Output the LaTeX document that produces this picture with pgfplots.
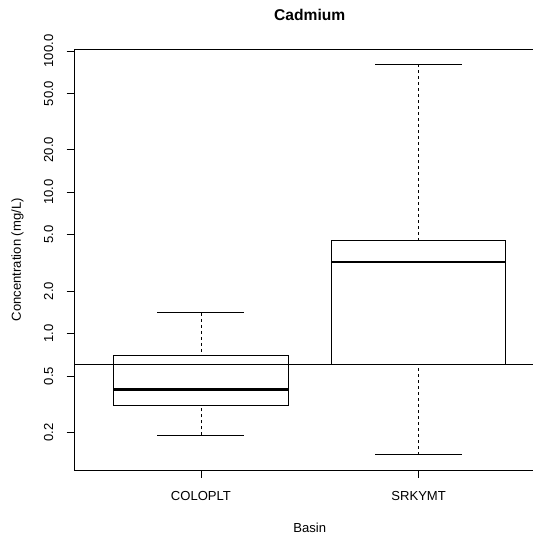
\documentclass[border=0pt]{standalone}
\usepackage{fontspec}
\setmainfont{Liberation Sans}
\usepackage{pgfplots}
\pgfplotsset{compat=1.18}
\usepgfplotslibrary{statistics}
\begin{document}
\begin{tikzpicture}
\begin{axis}[
  name=ax, at={(0,0)}, anchor=south west,
  scale only axis, width=343.7pt, height=315.5pt,
  xmin=0.42, xmax=2.525, ymin=0.108, ymax=102.8,
  ymode=log,
  axis line style={draw=none},
  tick align=outside, xtick pos=bottom, ytick pos=left,
  major tick length=6pt,
  tick style={black, line width=0.6pt},
  yminorticks=false,
  xtick={1,2}, xticklabels={COLOPLT,SRKYMT},
  ytick={0.2,0.5,1,2,5,10,20,50,100},
  yticklabels={0.2,0.5,1.0,2.0,5.0,10.0,20.0,50.0,100.0},
  ticklabel style={font=\fontsize{9.8}{11}\selectfont},
  xticklabel style={anchor=center, yshift=-13.5pt},
  yticklabel style={xshift=-13.5pt, rotate=90, anchor=center},
  title={Cadmium},
  title style={font=\fontsize{11.7}{13}\selectfont\bfseries, at={(axis description cs:0.513,1.0625)}, anchor=center},
  xlabel={Basin},
  xlabel style={font=\fontsize{9.8}{11}\selectfont, at={(axis description cs:0.513,-0.1379)}, anchor=center},
  ylabel={Concentration (mg/L)},
  ylabel style={font=\fontsize{9.8}{11}\selectfont, at={(axis description cs:-0.1248,0.5)}, anchor=center},
  boxplot/draw direction=y,
  boxplot/draw/lower whisker/.code={%
    \draw[dash pattern=on 2.25pt off 2.25pt] (boxplot cs:\pgfplotsboxplotvalue{lower whisker}) -- (boxplot cs:\pgfplotsboxplotvalue{lower quartile});
    \draw[solid] (boxplot whisker cs:\pgfplotsboxplotvalue{lower whisker},0) -- (boxplot whisker cs:\pgfplotsboxplotvalue{lower whisker},1);},
  boxplot/draw/upper whisker/.code={%
    \draw[dash pattern=on 2.25pt off 2.25pt] (boxplot cs:\pgfplotsboxplotvalue{upper whisker}) -- (boxplot cs:\pgfplotsboxplotvalue{upper quartile});
    \draw[solid] (boxplot whisker cs:\pgfplotsboxplotvalue{upper whisker},0) -- (boxplot whisker cs:\pgfplotsboxplotvalue{upper whisker},1);},
  boxplot/every median/.style={line width=2pt},
]
\addplot[black, line width=0.6pt] coordinates {(0,0.6) (3,0.6)};
\addplot[black, line width=0.6pt, boxplot prepared={draw position=1, median=0.4, upper quartile=0.7, lower quartile=0.31, upper whisker=1.4, lower whisker=0.19, box extend=0.8, whisker extend=0.4}] coordinates {};
\addplot[black, line width=0.6pt, boxplot prepared={draw position=2, median=3.2, upper quartile=4.57, lower quartile=0.6, upper whisker=80.5, lower whisker=0.139, box extend=0.8, whisker extend=0.4}] coordinates {};
\end{axis}
\draw[black, line width=0.6pt] (ax.north east) -- (ax.north west) -- (ax.south west) -- (ax.south east);
\pgfresetboundingbox
\useasboundingbox ([xshift=-56pt,yshift=-49.5pt]ax.south west) rectangle ([yshift=37pt]ax.north east);
\end{tikzpicture}
\end{document}
